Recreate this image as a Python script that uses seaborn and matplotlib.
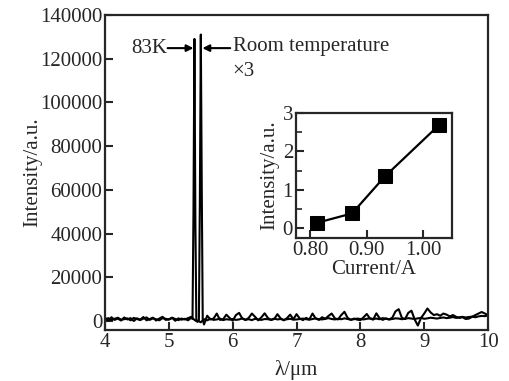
import numpy as np
import matplotlib
matplotlib.use('Agg')
import matplotlib.pyplot as plt
import seaborn as sns

# --- data ---

# 83K spectrum: noisy left part, narrow peak, flatter right part
k83_left_x = np.round(np.arange(4.00, 5.36, 0.05), 2)
k83_left_y = [1500, 200, 1800, 600, 1200, 300, 1700, 800, 1400, 100,
              1300, 700, 1900, 400, 1000, 1600, 300, 1200, 2000, 600,
              900, 1500, 200, 1300, 700, 1100, 400, 1600]
k83_peak_x = [5.37, 5.385, 5.40, 5.415, 5.43]
k83_peak_y = [1000, 50000, 129000, 45000, 500]
k83_right_x = np.round(np.arange(5.45, 10.01, 0.05), 2)
k83_right_y = [300, -500, 900, 400, 1100, 600, 800, 1200, 500, 900, 700,
               1000, 600, 800, 1300, 700, 900, 500, 1100, 800, 600, 1000,
               900, 700, 1200, 800, 1000, 600, 900, 1100, 700, 800, 1000,
               1200, 900, 700, 1000, 1300, 900, 800, 1100, 1400, 1000, 800,
               1100, 900, 1300, 1000, 700, 900, 1200, 1000, 800, 1100, 1300,
               1000, 1200, 900, 1400, 1100, 800, 1000, 1300, 1200, 900, 1100,
               1400, 1200, 1000, 1300, 1500, 1100, 1300, 1600, 1400, 1200, 1500,
               1700, 1400, 1600, 1900, 1500, 1800, 2000, 1700, 1900, 2100, 1800,
               2200, 2400, 2300, 2600]

# room temperature spectrum (x3)
rt_left_x = np.round(np.arange(4.00, 5.46, 0.05), 2)
rt_left_y = [800, 1400, 500, 1100, 1600, 700, 900, 1300, 400, 1500,
             1000, 500, 1200, 1700, 600, 1300, 900, 400, 1400, 1100,
             700, 1600, 1000, 500, 1200, 800, 1400, 2000, 600, -300]
rt_peak_x = [5.47, 5.485, 5.50, 5.515, 5.53]
rt_peak_y = [500, 55000, 131000, 60000, 800]
rt_right_x = np.round(np.arange(5.55, 10.01, 0.05), 2)
rt_right_y = [-1500, 2500, 800, 1200, 3500, 600, 900, 3000, 1500, 200,
              2800, 3800, 1200, 500, 1500, 3500, 2000, 400, 1800, 3600,
              1500, 500, 1000, 3200, 1300, 400, 1400, 3000, 900, 3200,
              1200, 500, 1500, 800, 3500, 1200, 600, 1800, 1100, 2400,
              3500, 1300, 800, 2800, 4300, 1500, 600, 1200, 700, 500,
              1800, 3300, 1200, 700, 3600, 1400, 600, 1300, 800, 1600,
              4500, 5500, 1500, 1000, 3800, 4800, 800, -2000, 1500, 3500,
              5800, 4000, 2800, 3200, 2500, 3500, 3000, 2200, 2800, 2000,
              1500, 1800, 1000, 1200, 2000, 2800, 3500, 4200, 3500, 2800]

# inset: peak intensity vs current
current = [0.813, 0.874, 0.932, 1.028]
inset_intensity = [0.15, 0.39, 1.35, 2.69]

k83_x = np.concatenate([k83_left_x, k83_peak_x, k83_right_x])
k83_y = np.concatenate([k83_left_y, k83_peak_y, k83_right_y])
rt_x = np.concatenate([rt_left_x, rt_peak_x, rt_right_x])
rt_y = np.concatenate([rt_left_y, rt_peak_y, rt_right_y])

# --- style ---
sns.set_style('ticks')
plt.rcParams['font.family'] = ['Liberation Serif', 'DejaVu Serif']
plt.rcParams['axes.linewidth'] = 1.6
plt.rcParams['xtick.direction'] = 'in'
plt.rcParams['ytick.direction'] = 'in'
plt.rcParams['xtick.major.width'] = 1.5
plt.rcParams['ytick.major.width'] = 1.5
plt.rcParams['xtick.minor.width'] = 1.2
plt.rcParams['ytick.minor.width'] = 1.2

fs = 15

fig = plt.figure(figsize=(5.10, 3.81), dpi=100)
ax = fig.add_axes([0.206, 0.134, 0.751, 0.827])

sns.lineplot(x=k83_x, y=k83_y, ax=ax, color='black', linewidth=1.5,
             estimator=None, sort=False)
sns.lineplot(x=rt_x, y=rt_y, ax=ax, color='black', linewidth=1.5,
             estimator=None, sort=False)

ax.set_xlim(4, 10)
ax.set_ylim(-4000, 140000)
ax.set_xticks(range(4, 11))
ax.set_yticks(range(0, 140001, 20000))
ax.tick_params(labelsize=fs, length=6, pad=2)
ax.set_xlabel('λ/μm', fontsize=fs, labelpad=6)
ax.set_ylabel('Intensity/a.u.', fontsize=fs, labelpad=-2)

# arrows and labels
ax.text(4.97, 124800, '83K', fontsize=fs, ha='right', va='center')
ax.annotate('', xy=(5.385, 124800), xytext=(4.98, 124800),
            arrowprops=dict(arrowstyle='-|>', color='black', lw=1.5,
                            shrinkA=0, shrinkB=0, mutation_scale=10))
ax.annotate('', xy=(5.525, 124800), xytext=(5.96, 124800),
            arrowprops=dict(arrowstyle='-|>', color='black', lw=1.5,
                            shrinkA=0, shrinkB=0, mutation_scale=10))
ax.text(6.0, 125500, 'Room temperature', fontsize=fs, ha='left', va='center')
ax.text(6.0, 114000, '×3', fontsize=fs, ha='left', va='center')

# --- inset ---
axin = fig.add_axes([0.580, 0.375, 0.306, 0.329])
sns.lineplot(x=current, y=inset_intensity, ax=axin, color='black',
             linewidth=1.6, marker='s', markersize=10, markeredgecolor='black',
             estimator=None, sort=False)
axin.set_xlim(0.775, 1.05)
axin.set_ylim(-0.25, 3)
axin.set_xticks([0.80, 0.90, 1.00])
axin.set_xticklabels(['0.80', '0.90', '1.00'])
axin.set_yticks([0, 1, 2, 3])
axin.set_yticks([0.5, 1.5, 2.5], minor=True)
axin.tick_params(labelsize=fs, length=6, pad=2)
axin.tick_params(which='minor', length=4)
axin.set_xlabel('Current/A', fontsize=fs, labelpad=0)
axin.set_ylabel('Intensity/a.u.', fontsize=fs, labelpad=2)

fig.savefig('out.png', dpi=100)
